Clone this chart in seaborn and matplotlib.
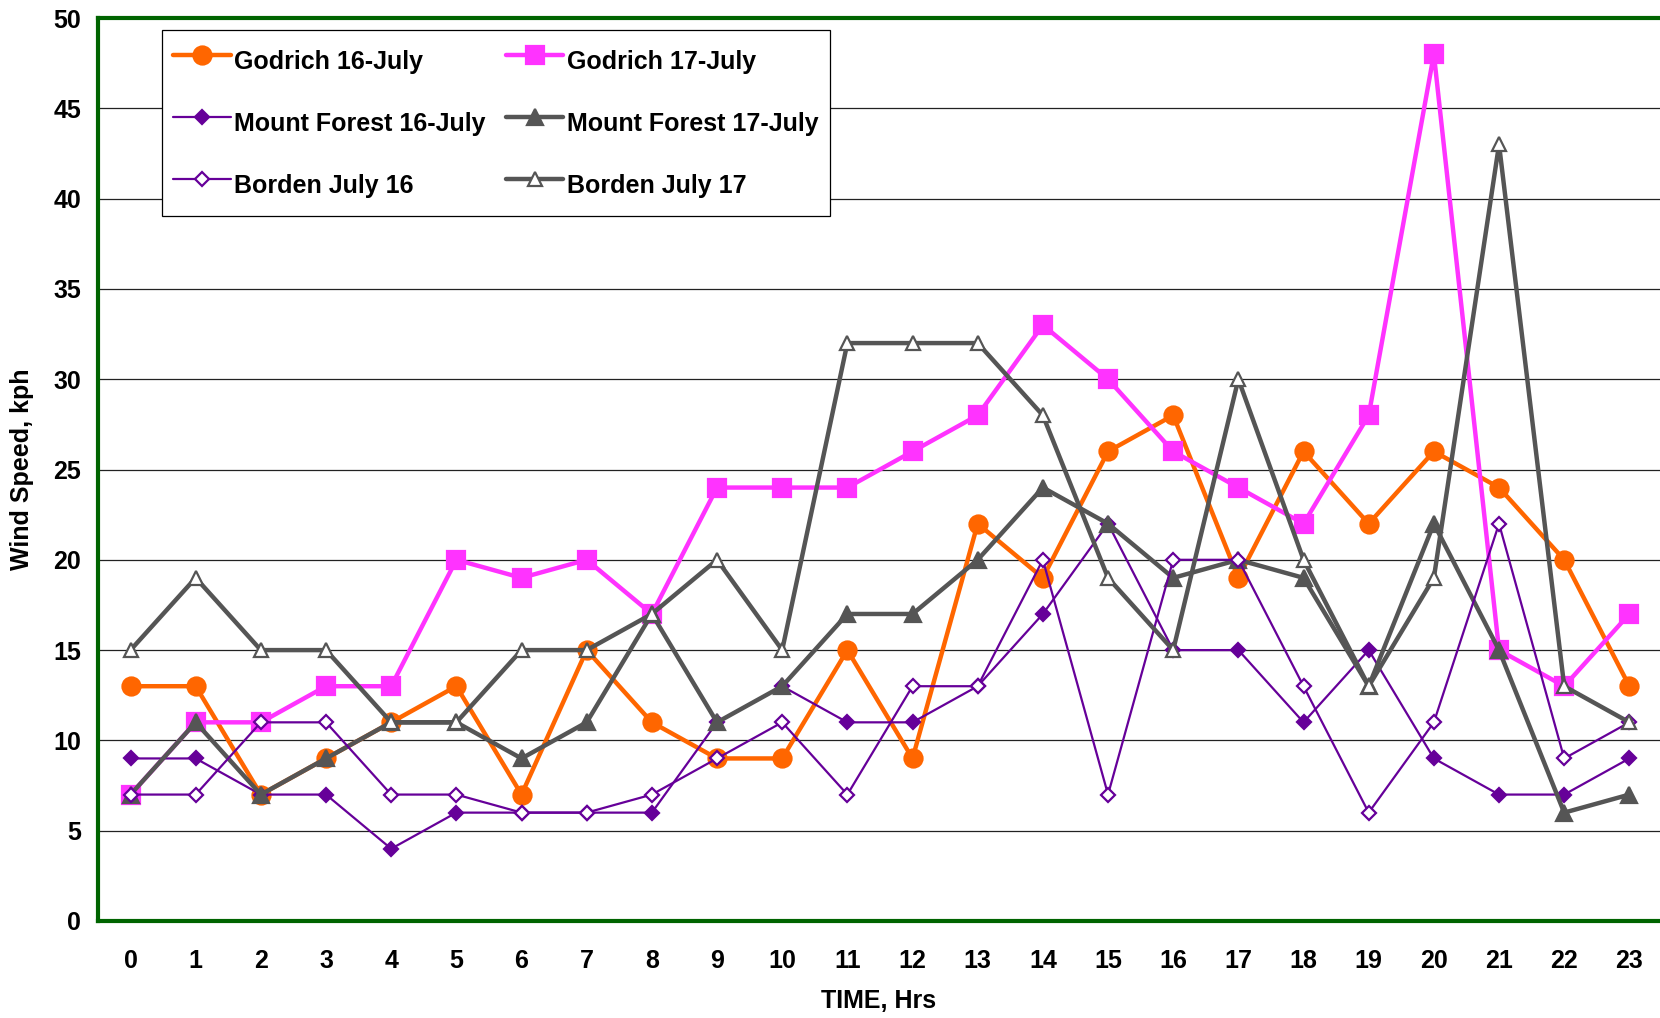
import matplotlib
matplotlib.use("Agg")
import matplotlib.pyplot as plt
import seaborn as sns

# Data
hours = list(range(24))
godrich_16 = [13, 13, 7, 9, 11, 13, 7, 15, 11, 9, 9, 15, 9, 22, 19, 26, 28, 19, 26, 22, 26, 24, 20, 13]
godrich_17 = [7, 11, 11, 13, 13, 20, 19, 20, 17, 24, 24, 24, 26, 28, 33, 30, 26, 24, 22, 28, 48, 15, 13, 17]
mtforest_16 = [9, 9, 7, 7, 4, 6, 6, 6, 6, 11, 13, 11, 11, 13, 17, 22, 15, 15, 11, 15, 9, 7, 7, 9]
mtforest_17 = [7, 11, 7, 9, 11, 11, 9, 11, 17, 11, 13, 17, 17, 20, 24, 22, 19, 20, 19, 13, 22, 15, 6, 7]
borden_16 = [7, 7, 11, 11, 7, 7, 6, 6, 7, 9, 11, 7, 13, 13, 20, 7, 20, 20, 13, 6, 11, 22, 9, 11]
borden_17 = [15, 19, 15, 15, 11, 11, 15, 15, 17, 20, 15, 32, 32, 32, 28, 19, 15, 30, 20, 13, 19, 43, 13, 11]

sns.set_style("white")
plt.rcParams['font.family'] = ['Liberation Sans', 'DejaVu Sans']
plt.rcParams['font.weight'] = 'bold'
plt.rcParams['text.color'] = 'black'
plt.rcParams['axes.labelcolor'] = 'black'
plt.rcParams['xtick.color'] = 'black'
plt.rcParams['ytick.color'] = 'black'

ORANGE = "#FF6600"
MAGENTA = "#FF33FF"
PURPLE = "#660099"
GRAY = "#555555"
GREEN = "#006400"
FS = 18

fig = plt.figure(figsize=(16.6, 10.18), dpi=100)
ax = fig.add_axes([0.059, 0.0953, 0.941, 0.887])

# series styles: (values, label, color, marker, lw, ms, face)
series = [
    (godrich_16, "Godrich 16-July", ORANGE, "o", 3.2, 13, ORANGE),
    (godrich_17, "Godrich 17-July", MAGENTA, "s", 3.2, 13, MAGENTA),
    (mtforest_16, "Mount Forest 16-July", PURPLE, "D", 1.6, 7.5, PURPLE),
    (mtforest_17, "Mount Forest 17-July", GRAY, "^", 3.2, 12, GRAY),
    (borden_16, "Borden July 16", PURPLE, "D", 1.6, 7.5, "white"),
    (borden_17, "Borden July 17", GRAY, "^", 3.2, 10, "white"),
]

handles = {}
for vals, label, color, marker, lw, ms, face in series:
    sns.lineplot(x=hours, y=vals, ax=ax, color=color, marker=marker, lw=lw,
                 markersize=ms, markerfacecolor=face, markeredgecolor=color,
                 markeredgewidth=1.6, label=label, legend=False)
    handles[label] = ax.lines[-1]

ax.set_xlim(-0.5, 23.47)
ax.set_ylim(0, 50)
ax.set_xticks(hours)
ax.set_yticks(range(0, 51, 5))
ax.tick_params(axis='both', length=0, labelsize=FS)
ax.tick_params(axis='x', pad=20)
ax.tick_params(axis='y', pad=12)
ax.yaxis.grid(True, color="#222222", lw=0.9)
ax.set_axisbelow(True)

for side in ["left", "top", "bottom"]:
    ax.spines[side].set_color(GREEN)
    ax.spines[side].set_linewidth(3)
ax.spines["right"].set_visible(False)

ax.set_xlabel("TIME, Hrs", fontsize=FS, fontweight='bold', labelpad=12)
ax.set_ylabel("Wind Speed, kph", fontsize=FS, fontweight='bold', labelpad=14)

order = ["Godrich 16-July", "Mount Forest 16-July", "Borden July 16",
         "Godrich 17-July", "Mount Forest 17-July", "Borden July 17"]
leg = ax.legend([handles[k] for k in order], order, ncol=2, loc="upper left",
                bbox_to_anchor=(0.041, 0.987), borderaxespad=0, fontsize=FS,
                frameon=True, fancybox=False, framealpha=1, edgecolor="black",
                handlelength=2.3, handleheight=2.1, handletextpad=0.15,
                columnspacing=0.8, labelspacing=0.86, borderpad=0.45)
leg.get_frame().set_linewidth(0.9)

fig.savefig("out.png", dpi=100)
